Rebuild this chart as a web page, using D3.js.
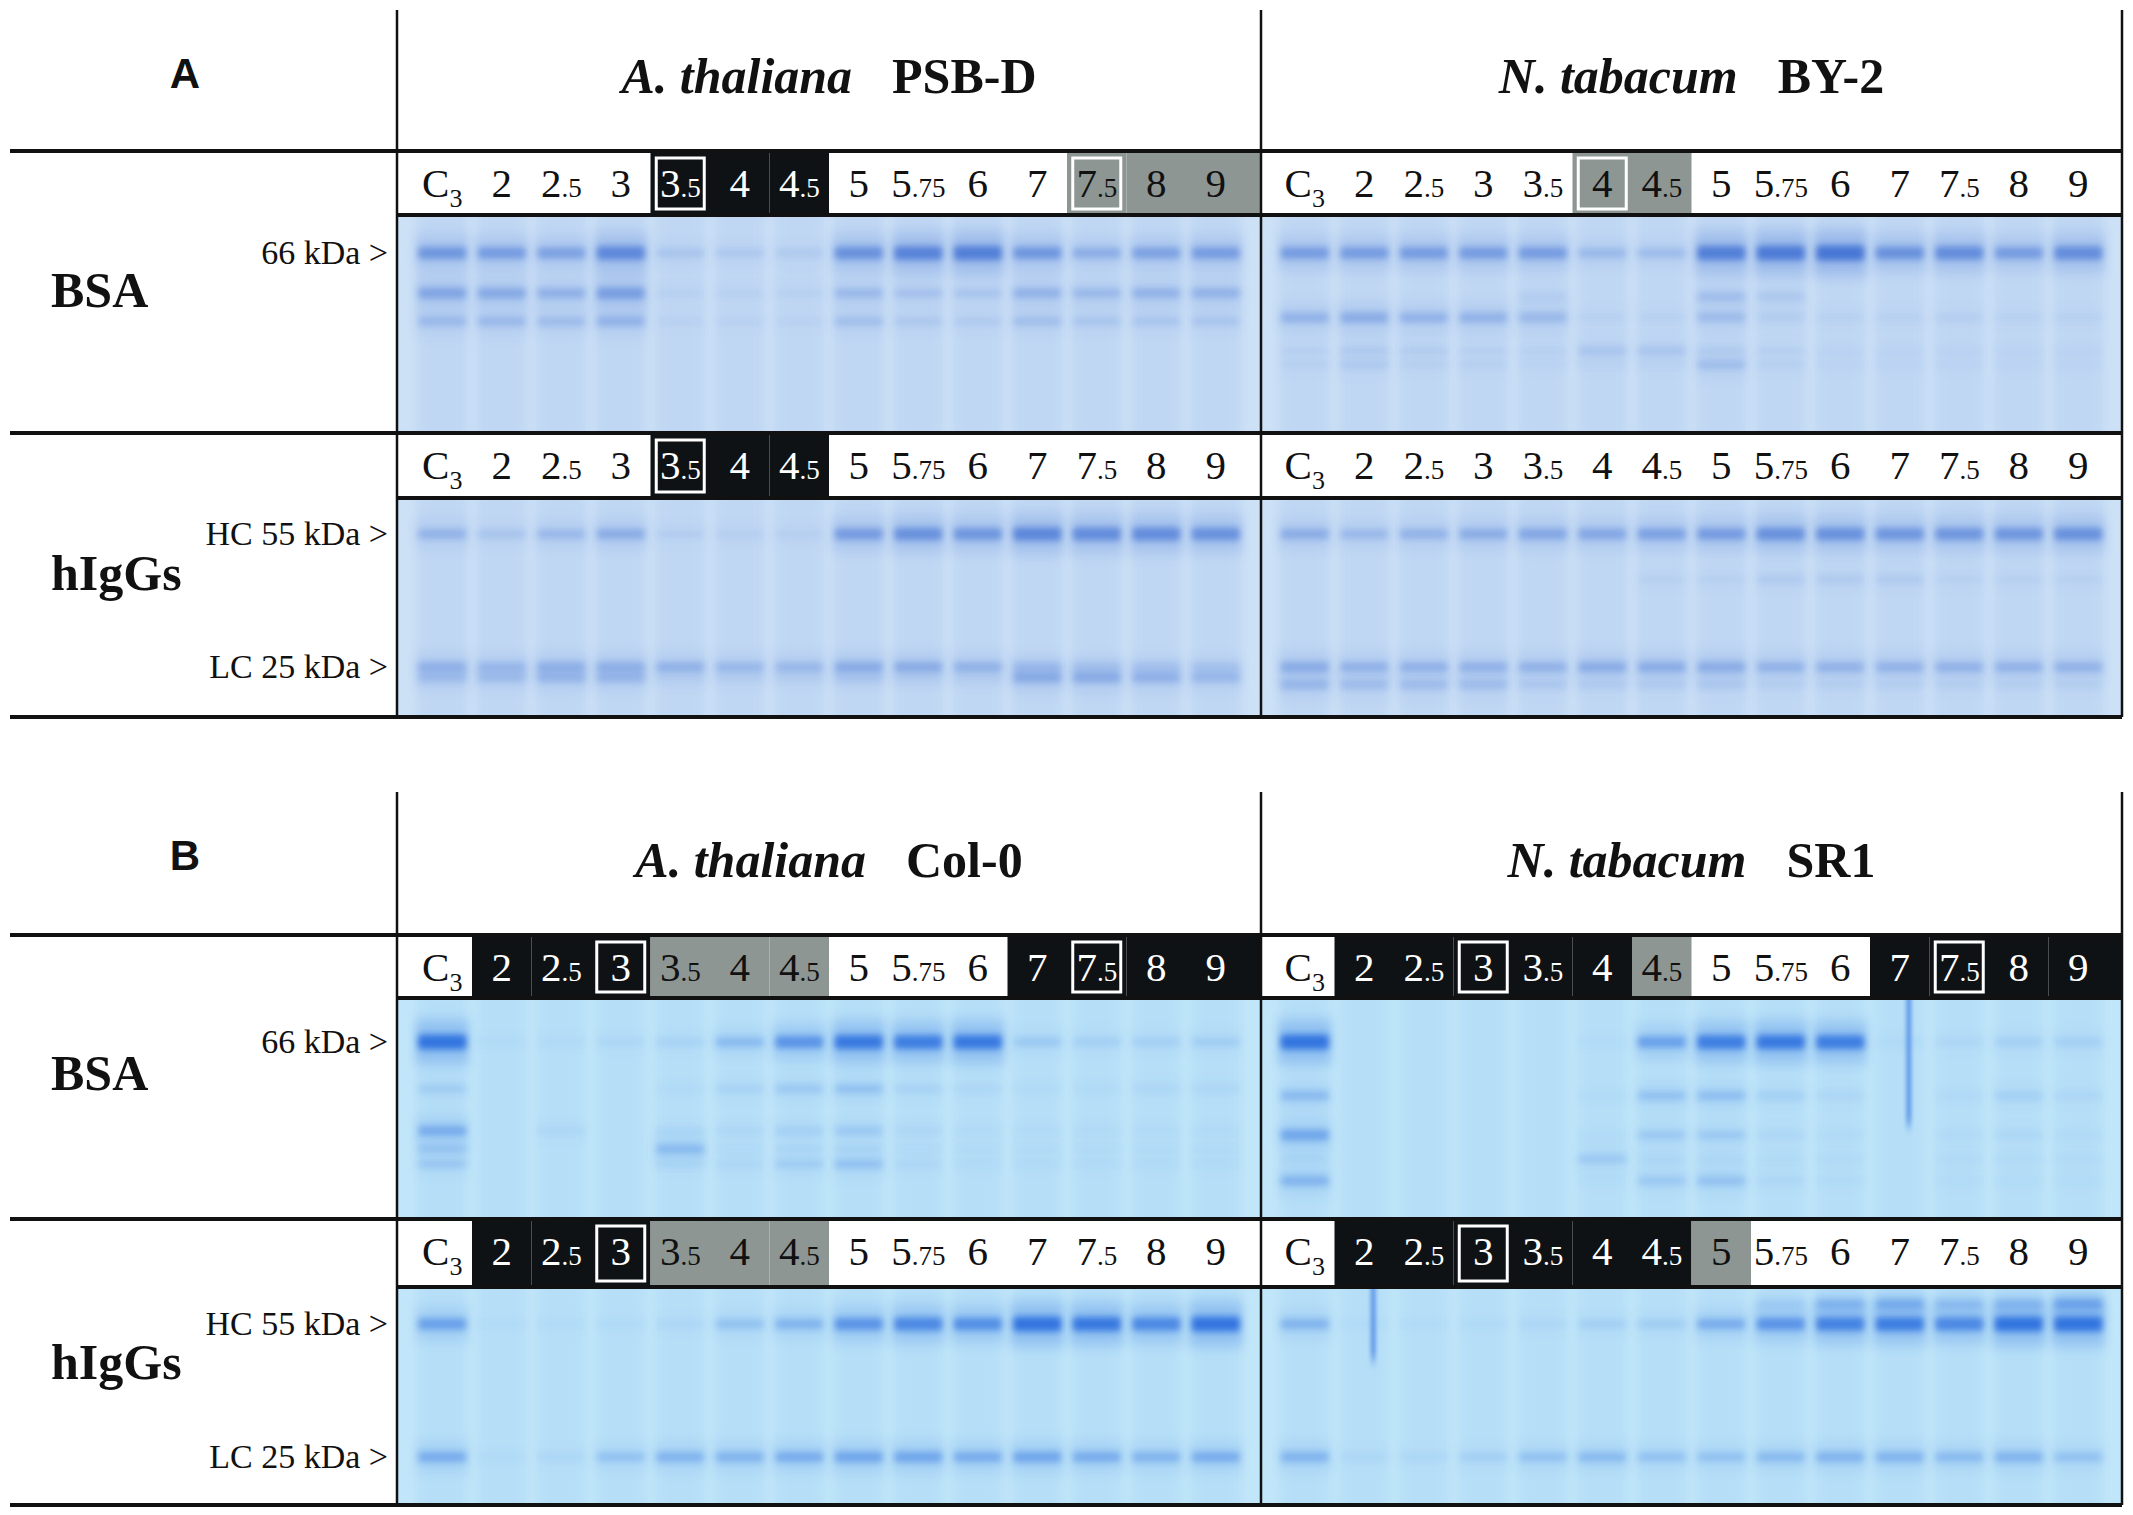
<!DOCTYPE html>
<html><head><meta charset="utf-8">
<script src="https://cdn.jsdelivr.net/npm/d3@7"></script>
<style>html,body{margin:0;padding:0;background:#fff}svg{display:block}</style>
</head><body>
<svg id="fig" width="2133" height="1515"></svg>
<script>
// ---------------- DATA ----------------
const lanes = ["C3","2","2.5","3","3.5","4","4.5","5","5.75","6","7","7.5","8","9"];
const sectionLetters = ["A","B"];
const panelTitlesA = [["A. thaliana","PSB-D"],["N. tabacum","BY-2"]];
const panelTitlesB = [["A. thaliana","Col-0"],["N. tabacum","SR1"]];
const rowNames = ["BSA","hIgGs"];
const markersBSA = [[66,"66 kDa >"]];
const markersIgG = [[55,"HC 55 kDa >"],[25,"LC 25 kDa >"]];

// lane-label highlight codes: w = white, k = black, g = grey
const hlA_PSBD_BSA = ["w","w","w","w","k","k","k","w","w","w","w","g","g","g"];
const hlA_BY2_BSA  = ["w","w","w","w","w","g","g","w","w","w","w","w","w","w"];
const hlA_PSBD_IgG = ["w","w","w","w","k","k","k","w","w","w","w","w","w","w"];
const hlA_BY2_IgG  = ["w","w","w","w","w","w","w","w","w","w","w","w","w","w"];
const hlB_Col0_BSA = ["w","k","k","k","g","g","g","w","w","w","k","k","k","k"];
const hlB_SR1_BSA  = ["w","k","k","k","k","k","g","w","w","w","k","k","k","k"];
const hlB_Col0_IgG = ["w","k","k","k","g","g","g","w","w","w","w","w","w","w"];
const hlB_SR1_IgG  = ["w","k","k","k","k","k","k","g","w","w","w","w","w","w"];

// boxed lane labels
const boxA_PSBD_BSA = ["3.5","7.5"];
const boxA_BY2_BSA  = ["4"];
const boxA_PSBD_IgG = ["3.5"];
const boxA_BY2_IgG  = [];
const boxB_Col0_BSA = ["3","7.5"];
const boxB_SR1_BSA  = ["3","7.5"];
const boxB_Col0_IgG = ["3"];
const boxB_SR1_IgG  = ["3"];

// band intensities per lane: [kDa, values by lane]
const gelA_PSBD_BSA = [
  [66,[0.55,0.5,0.45,0.7,0.15,0.12,0.1,0.6,0.75,0.8,0.55,0.35,0.45,0.5]],
  [52,[0.42,0.38,0.32,0.48,0.05,0.05,0.05,0.25,0.18,0.15,0.3,0.25,0.3,0.3]],
  [44,[0.25,0.25,0.22,0.3,0.04,0.04,0.04,0.2,0.12,0.1,0.2,0.15,0.15,0.15]]
];
const gelA_BY2_BSA = [
  [66,[0.5,0.5,0.5,0.5,0.5,0.25,0.22,0.8,0.85,0.9,0.6,0.65,0.5,0.65]],
  [51,[0,0,0,0,0.08,0,0,0.2,0.12,0,0,0,0,0]],
  [45,[0.3,0.35,0.3,0.3,0.25,0.05,0.05,0.22,0.08,0.05,0.05,0.06,0.05,0.05]],
  [37,[0.05,0.1,0.08,0.05,0.05,0.15,0.15,0.08,0.05,0.03,0.03,0.03,0.03,0.03]],
  [34,[0.05,0.1,0.05,0.05,0.03,0.03,0.03,0.2,0.05,0.03,0.03,0.03,0.03,0.03]]
];
const gelA_PSBD_IgG = [
  [55,[0.3,0.15,0.25,0.35,0.08,0.06,0.06,0.5,0.6,0.55,0.7,0.65,0.65,0.6]],
  [25,[0.3,0.25,0.3,0.3,0.3,0.25,0.25,0.35,0.35,0.3,0.2,0.15,0.15,0.15]],
  [23.5,[0.2,0.2,0.25,0.25,0.05,0.05,0.05,0.1,0.05,0.05,0.35,0.35,0.3,0.25]]
];
const gelA_BY2_IgG = [
  [55,[0.35,0.25,0.3,0.35,0.4,0.4,0.45,0.5,0.6,0.6,0.55,0.55,0.55,0.6]],
  [42,[0,0,0,0,0,0,0.05,0.05,0.1,0.1,0.1,0.05,0.05,0.05]],
  [25,[0.35,0.3,0.3,0.3,0.3,0.35,0.35,0.35,0.3,0.3,0.3,0.3,0.3,0.3]],
  [22.5,[0.25,0.2,0.2,0.2,0.1,0.08,0.08,0.1,0.05,0.05,0.05,0.05,0.05,0.05]]
];
const gelB_Col0_BSA = [
  [66,[0.85,0.03,0.03,0.05,0.08,0.25,0.55,0.8,0.75,0.8,0.15,0.1,0.1,0.12]],
  [50,[0.12,0,0,0,0.03,0.08,0.15,0.2,0.08,0.05,0.03,0.03,0.05,0.05]],
  [39,[0.35,0,0.05,0,0.05,0.05,0.1,0.15,0.05,0.03,0.03,0.03,0.03,0.03]],
  [35,[0.15,0,0,0,0.25,0.03,0.05,0.05,0.03,0.03,0.03,0.03,0.03,0.03]],
  [32,[0.15,0,0,0,0.05,0.05,0.12,0.2,0.05,0.03,0.03,0.03,0.03,0.03]]
];
const gelB_SR1_BSA = [
  [66,[0.85,0,0,0,0,0.02,0.45,0.75,0.8,0.75,0.03,0.05,0.1,0.1]],
  [48,[0.25,0,0,0,0,0.02,0.2,0.22,0.1,0.05,0,0.03,0.1,0.05]],
  [38,[0.4,0,0,0,0,0.02,0.15,0.15,0.05,0.03,0,0.03,0.05,0.03]],
  [33,[0.05,0,0,0,0,0.15,0.05,0.05,0.03,0.03,0,0.03,0.03,0.03]],
  [29,[0.3,0,0,0,0,0.02,0.15,0.2,0.05,0.03,0,0.02,0.02,0.02]]
];
const gelB_Col0_IgG = [
  [55,[0.45,0.02,0.02,0.03,0.05,0.2,0.3,0.55,0.65,0.6,0.85,0.8,0.65,0.85]],
  [25,[0.35,0.03,0.05,0.2,0.3,0.3,0.35,0.4,0.4,0.35,0.4,0.35,0.3,0.35]]
];
const gelB_SR1_IgG = [
  [62,[0,0,0,0,0,0,0,0,0.1,0.25,0.3,0.2,0.2,0.35]],
  [55,[0.3,0.02,0.02,0.03,0.05,0.1,0.12,0.35,0.55,0.7,0.75,0.65,0.85,0.85]],
  [25,[0.3,0.05,0.05,0.1,0.2,0.25,0.2,0.2,0.25,0.3,0.3,0.25,0.3,0.2]]
];
// vertical stain streaks (lane)
const streakB_SR1_BSA = ["7"];
const streakB_SR1_IgG = ["2"];

// ---------------- LAYOUT ----------------
const svg = d3.select("#fig");
svg.append("rect").attr("width",2133).attr("height",1515).attr("fill","#fff");
const serif = "'Liberation Serif','Times New Roman',serif";
const sans = "'Liberation Sans',Arial,sans-serif";
const xL = 10, xR = 2122;
const panelX = [[397,1261],[1261,2122]];
const laneStep = 59.5;

const defs = svg.append("defs");
function blurFilter(id, sx, sy){
  defs.append("filter").attr("id",id).attr("filterUnits","userSpaceOnUse")
    .attr("x",0).attr("y",0).attr("width",2133).attr("height",1515)
    .append("feGaussianBlur").attr("stdDeviation",sx+" "+sy);
}
blurFilter("bandBlur",3.2,3.0);
blurFilter("haloBlur",5,7);
blurFilter("laneBlur",5,0);
blurFilter("streakBlur",2,6);

const sections = [
  {letter:sectionLetters[0], top:10, header:151, titles:panelTitlesA, style:"A",
   rows:[{label:151,gel:215,bottom:433,type:"BSA",off:38,
          panels:[{hl:hlA_PSBD_BSA,box:boxA_PSBD_BSA,bands:gelA_PSBD_BSA,streak:[]},
                  {hl:hlA_BY2_BSA,box:boxA_BY2_BSA,bands:gelA_BY2_BSA,streak:[]}]},
         {label:433,gel:498,bottom:717,type:"IgG",off:36,
          panels:[{hl:hlA_PSBD_IgG,box:boxA_PSBD_IgG,bands:gelA_PSBD_IgG,streak:[]},
                  {hl:hlA_BY2_IgG,box:boxA_BY2_IgG,bands:gelA_BY2_IgG,streak:[]}]}]},
  {letter:sectionLetters[1], top:792, header:935, titles:panelTitlesB, style:"B",
   rows:[{label:935,gel:998,bottom:1219,type:"BSA",off:44,
          panels:[{hl:hlB_Col0_BSA,box:boxB_Col0_BSA,bands:gelB_Col0_BSA,streak:[]},
                  {hl:hlB_SR1_BSA,box:boxB_SR1_BSA,bands:gelB_SR1_BSA,streak:streakB_SR1_BSA,streakLen:0.62}]},
         {label:1219,gel:1287,bottom:1505,type:"IgG",off:37,
          panels:[{hl:hlB_Col0_IgG,box:boxB_Col0_IgG,bands:gelB_Col0_IgG,streak:[]},
                  {hl:hlB_SR1_IgG,box:boxB_SR1_IgG,bands:gelB_SR1_IgG,streak:streakB_SR1_IgG,streakLen:0.38}]}]}
];
const gelStyle = {
  A:{bg:"#cce0f6", lane:"#5b8fe0", laneOp:0.10, band:"#3567d0", k:0.9},
  B:{bg:"#c2e6f9", lane:"#4a9be6", laneOp:0.09, band:"#1c63dc", k:0.95}
};

function laneScale(p){
  const cx = (panelX[p][0]+panelX[p][1])/2;
  return d3.scalePoint().domain(lanes).range([cx-6.5*laneStep, cx+6.5*laneStep]);
}
function cellBounds(x, p, i){
  const l = i===0 ? panelX[p][0] : (x(lanes[i-1])+x(lanes[i]))/2;
  const r = i===lanes.length-1 ? panelX[p][1] : (x(lanes[i])+x(lanes[i+1]))/2;
  return [l,r];
}
function labelParts(l){
  if(l==="C3") return [{t:"C",k:"big"},{t:"3",k:"sub"}];
  const i = l.indexOf(".");
  if(i<0) return [{t:l,k:"big"}];
  return [{t:l.slice(0,i),k:"big"},{t:l.slice(i),k:"small"}];
}

let clipId = 0;
sections.forEach(sec=>{
  const st = gelStyle[sec.style];
  svg.append("text").attr("x",185).attr("y",sec.top+78).attr("text-anchor","middle")
    .attr("font-family",sans).attr("font-weight","bold").attr("font-size",42).attr("fill","#111")
    .text(sec.letter);
  sec.titles.forEach((t,p)=>{
    const cx = (panelX[p][0]+panelX[p][1])/2;
    const tx = svg.append("text").attr("x",cx).attr("y",sec.header-58).attr("text-anchor","middle")
      .attr("font-family",serif).attr("font-weight","bold").attr("font-size",50).attr("fill","#111");
    tx.append("tspan").attr("font-style","italic").text(t[0]);
    tx.append("tspan").attr("dx",40).text(t[1]);
  });
  sec.rows.forEach((row,ri)=>{
    svg.append("text").attr("x",51).attr("y",row.gel+92)
      .attr("font-family",serif).attr("font-weight","bold").attr("font-size",50).attr("fill","#111")
      .text(rowNames[ri]);
    const y = row.type==="BSA"
      ? d3.scaleLog().domain([66,66/Math.E]).range([row.gel+row.off,row.gel+row.off+168.7])
      : d3.scaleLog().domain([55,25]).range([row.gel+row.off,row.gel+row.off+133]);
    const markers = row.type==="BSA" ? markersBSA : markersIgG;
    markers.forEach(m=>{
      svg.append("text").attr("x",388).attr("y",y(m[0])+11).attr("text-anchor","end")
        .attr("font-family",serif).attr("font-size",34).attr("fill","#111").text(m[1]);
    });
    row.panels.forEach((pn,p)=>{
      const x = laneScale(p);
      const [x0,x1] = panelX[p];
      lanes.forEach((l,i)=>{
        const code = pn.hl[i];
        if(code==="w") return;
        const [a,b] = cellBounds(x,p,i);
        svg.append("rect").attr("x",a).attr("y",row.label).attr("width",b-a).attr("height",row.gel-row.label)
          .attr("fill", code==="k" ? "#0e1215" : "#8d9692");
      });
      pn.box.forEach(l=>{
        svg.append("rect").attr("x",x(l)-24).attr("y",row.label+7).attr("width",48)
          .attr("height",row.gel-row.label-13).attr("fill","none").attr("stroke","#fff").attr("stroke-width",3);
      });
      lanes.forEach((l,i)=>{
        const code = pn.hl[i];
        const t = svg.append("text").attr("x",x(l)).attr("y",row.label+46).attr("text-anchor","middle")
          .attr("font-family",serif).attr("font-size",41)
          .attr("fill", code==="k" ? "#fff" : "#111");
        labelParts(l).forEach(pt=>{
          const ts = t.append("tspan").text(pt.t);
          if(pt.k==="small") ts.attr("font-size",27);
          if(pt.k==="sub") ts.attr("font-size",26).attr("dy",10);
        });
      });
      // ---- gel ----
      const cid = "clip"+(clipId++);
      defs.append("clipPath").attr("id",cid).append("rect")
        .attr("x",x0).attr("y",row.gel).attr("width",x1-x0).attr("height",row.bottom-row.gel);
      const g = svg.append("g").attr("clip-path","url(#"+cid+")");
      g.append("rect").attr("x",x0).attr("y",row.gel).attr("width",x1-x0).attr("height",row.bottom-row.gel)
        .attr("fill",st.bg);
      g.selectAll(null).data(lanes).join("rect")
        .attr("x",d=>x(d)-25).attr("y",row.gel-5).attr("width",50).attr("height",row.bottom-row.gel+10)
        .attr("fill",st.lane).attr("opacity",st.laneOp).attr("filter","url(#laneBlur)");
      pn.bands.forEach(([kda,vals],bi)=>{
        const by = y(kda);
        vals.forEach((v,i)=>{
          if(v<=0.005) return;
          const lx = x(lanes[i]);
          g.append("rect").attr("x",lx-27).attr("y",by-(10+14*v)).attr("width",54).attr("height",2*(10+14*v))
            .attr("fill",st.band).attr("opacity",v*0.3).attr("filter","url(#haloBlur)");
          const h = 7+9*v;
          g.append("rect").attr("x",lx-24).attr("y",by-h/2).attr("width",48).attr("height",h).attr("rx",3)
            .attr("fill",st.band).attr("opacity",Math.min(1,v*st.k)).attr("filter","url(#bandBlur)");
        });
      });
      pn.streak.forEach(l=>{
        g.append("rect").attr("x",x(l)+7).attr("y",row.gel-10).attr("width",4)
          .attr("height",(row.bottom-row.gel)*pn.streakLen).attr("fill",st.band).attr("opacity",0.7)
          .attr("filter","url(#streakBlur)");
      });
    });
  });
  const hFull = [sec.header, sec.rows[1].label, sec.rows[1].bottom];
  hFull.forEach(yv=>{
    svg.append("line").attr("x1",xL).attr("x2",xR).attr("y1",yv).attr("y2",yv)
      .attr("stroke","#111").attr("stroke-width",4);
  });
  sec.rows.forEach(row=>{
    svg.append("line").attr("x1",panelX[0][0]).attr("x2",xR).attr("y1",row.gel).attr("y2",row.gel)
      .attr("stroke","#111").attr("stroke-width",4);
  });
  [panelX[0][0], panelX[1][0], xR].forEach(xv=>{
    svg.append("line").attr("x1",xv).attr("x2",xv).attr("y1",sec.top).attr("y2",sec.rows[1].bottom)
      .attr("stroke","#111").attr("stroke-width",2.5);
  });
});
</script>
</body></html>
